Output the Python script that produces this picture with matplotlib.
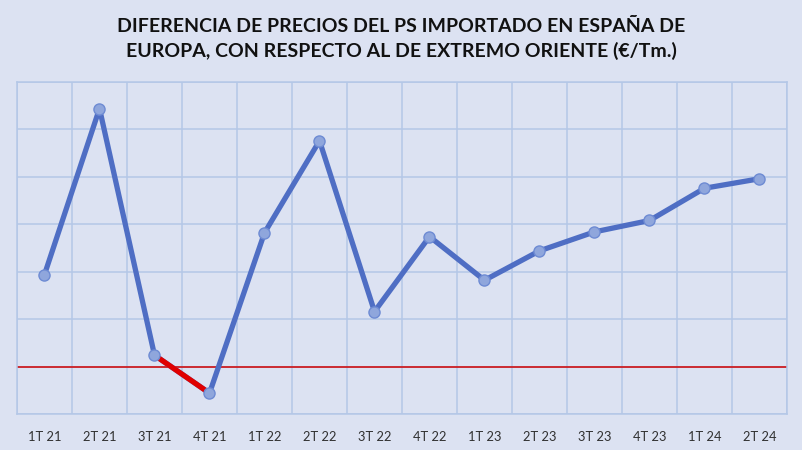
import matplotlib
matplotlib.use("Agg")
import matplotlib.pyplot as plt
import numpy as np

categories = ["1T 21", "2T 21", "3T 21", "4T 21", "1T 22", "2T 22", "3T 22",
              "4T 22", "1T 23", "2T 23", "3T 23", "4T 23", "1T 24", "2T 24"]
values = [97, 272, 12, -28, 141, 238, 58, 137, 91, 122, 142, 154, 188, 198]
title = "DIFERENCIA DE PRECIOS DEL PS IMPORTADO EN ESPAÑA DE\nEUROPA, CON RESPECTO AL DE EXTREMO ORIENTE (€/Tm.)"
neg_segment = [2, 3]

bg = "#DCE2F2"
grid_c = "#B4C7E7"
line_c = "#4F6EC4"
mface = "#8FA6DC"
medge = "#6E8BD3"

fig = plt.figure(figsize=(8.03, 4.5), dpi=100)
fig.patch.set_facecolor(bg)
ax = fig.add_axes([17/803, 36/450, 770/803, 332/450])
ax.set_facecolor(bg)

x = np.arange(len(categories))
ax.plot(x, values, color=line_c, lw=3.8, solid_capstyle="round", zorder=3)
ax.plot(x[neg_segment], np.array(values)[neg_segment], color="#E00000", lw=3.8,
        solid_capstyle="butt", zorder=4)
ax.plot(x, values, ls="none", marker="o", ms=8, mfc=mface, mec=medge, mew=1.0, zorder=5)
ax.axhline(0, color="#D00000", lw=1.1, zorder=2)

ax.set_xlim(-0.5, len(categories) - 0.5)
ax.set_ylim(-50, 300)
ax.set_yticks(np.arange(-50, 301, 50))
ax.set_xticks(x)
ax.set_xticklabels(categories, fontsize=9.3, color="#303030", family="Lato")
ax.set_xticks(np.arange(-0.5, len(categories), 1), minor=True)
ax.tick_params(axis="x", which="both", length=0, pad=12)
ax.tick_params(axis="y", which="both", length=0, labelleft=False)
ax.grid(True, which="major", axis="y", color=grid_c, lw=1.1, zorder=1)
ax.grid(True, which="minor", axis="x", color=grid_c, lw=1.1, zorder=1)
ax.grid(False, which="major", axis="x")
for s in ax.spines.values():
    s.set_color(grid_c)
    s.set_linewidth(1.1)

fig.text(0.5, 0.913, title, ha="center", va="center", fontsize=14,
         fontweight="bold", family="Lato", color="#111111", linespacing=1.5)

fig.savefig("out.png", dpi=100, facecolor=bg)
